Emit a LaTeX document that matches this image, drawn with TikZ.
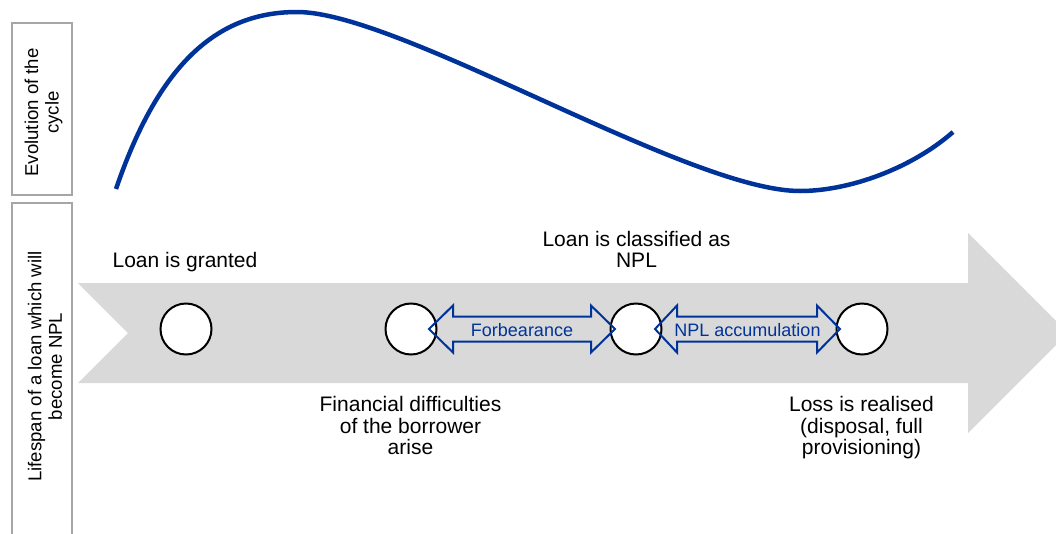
\documentclass[tikz,border=0pt]{standalone}
\usepackage{fontspec}
\setmainfont{Liberation Sans}
\usetikzlibrary{calc}
\definecolor{cycleblue}{RGB}{0,51,153}
\definecolor{arrowgray}{RGB}{217,217,217}
\definecolor{boxgray}{RGB}{166,166,166}
\tikzset{
  sidebox/.style={draw=boxgray, line width=2pt},
  sidelabel/.style={rotate=90, align=center, inner sep=0pt, font=\fontsize{18.6}{20.5}\selectfont},
  milestone/.style={circle, draw=black, fill=white, line width=2pt, minimum size=51pt, inner sep=0pt},
  event/.style={align=center, inner sep=0pt, anchor=north, font=\fontsize{21}{21.5}\selectfont},
  phase/.style={draw=cycleblue, line width=2pt, line join=miter},
  phaselabel/.style={text=cycleblue, inner sep=0pt, anchor=base, font=\fontsize{18}{20}\selectfont},
  cycleline/.style={draw=cycleblue, line width=4.5pt}
}
\begin{document}
\begin{tikzpicture}[x=1pt, y=-1pt]
\useasboundingbox (0,0) rectangle (1056,533);
\clip (0,0) rectangle (1056,533);
% side boxes
\draw[sidebox] (12,23) rectangle (71.5,195);
\draw[sidebox] (12,203) rectangle (71.5,545);
\node[sidelabel] (lab1) at (43.5,112.5) {Evolution of the\\cycle};
\node[sidelabel] (lab2) at (45,366.5) {Lifespan of a loan which will\\become NPL};
% cycle curve
\coordinate (s) at (116,189);
\coordinate (pk) at (297,12);
\coordinate (mn) at (800,191);
\coordinate (en) at (953,132);
\draw[cycleline] (s) .. controls (160,60) and (220,12) .. (pk)
  .. controls (400,12) and (688,191) .. (mn)
  .. controls (850,191) and (912,168) .. (en);
% big gray arrow
\fill[arrowgray] (78,283) -- (968,283) -- (968,233) -- (1068,333) -- (968,433) -- (968,383) -- (78,383) -- (128,333) -- cycle;
% milestones
\node[milestone] (c1) at (186,329) {};
\node[milestone] (c2) at (411,329) {};
\node[milestone] (c3) at (636,329) {};
\node[milestone] (c4) at (862,329) {};
% phase double arrows
\draw[phase] ($(c2)+(18,0)$) -- ++(24,-23.5) -- ++(0,11) -- ($(c3)+(-45,-12.5)$) -- ++(0,-11) -- ($(c3)+(-21,0)$) -- ++(-24,23.5) -- ++(0,-11) -- ($(c2)+(42,12.5)$) -- ++(0,11) -- cycle;
\draw[phase] ($(c3)+(19,0)$) -- ++(22,-23.5) -- ++(0,11) -- ($(c4)+(-45,-12.5)$) -- ++(0,-11) -- ($(c4)+(-22,0)$) -- ++(-23,23.5) -- ++(0,-11) -- ($(c3)+(41,12.5)$) -- ++(0,11) -- cycle;
\node[phaselabel] (f) at (522,336) {Forbearance};
\node[phaselabel] (n) at (747.5,336) {NPL accumulation};
% event labels
\node[event] (e1) at (185,252) {Loan is granted};
\node[event] (e3) at (636.5,231) {Loan is classified as\\NPL};
\node[event] (e2) at (410.5,396.5) {Financial difficulties\\of the borrower\\arise};
\node[event] (e4) at (861.5,396.5) {Loss is realised\\(disposal, full\\provisioning)};
\end{tikzpicture}
\end{document}
